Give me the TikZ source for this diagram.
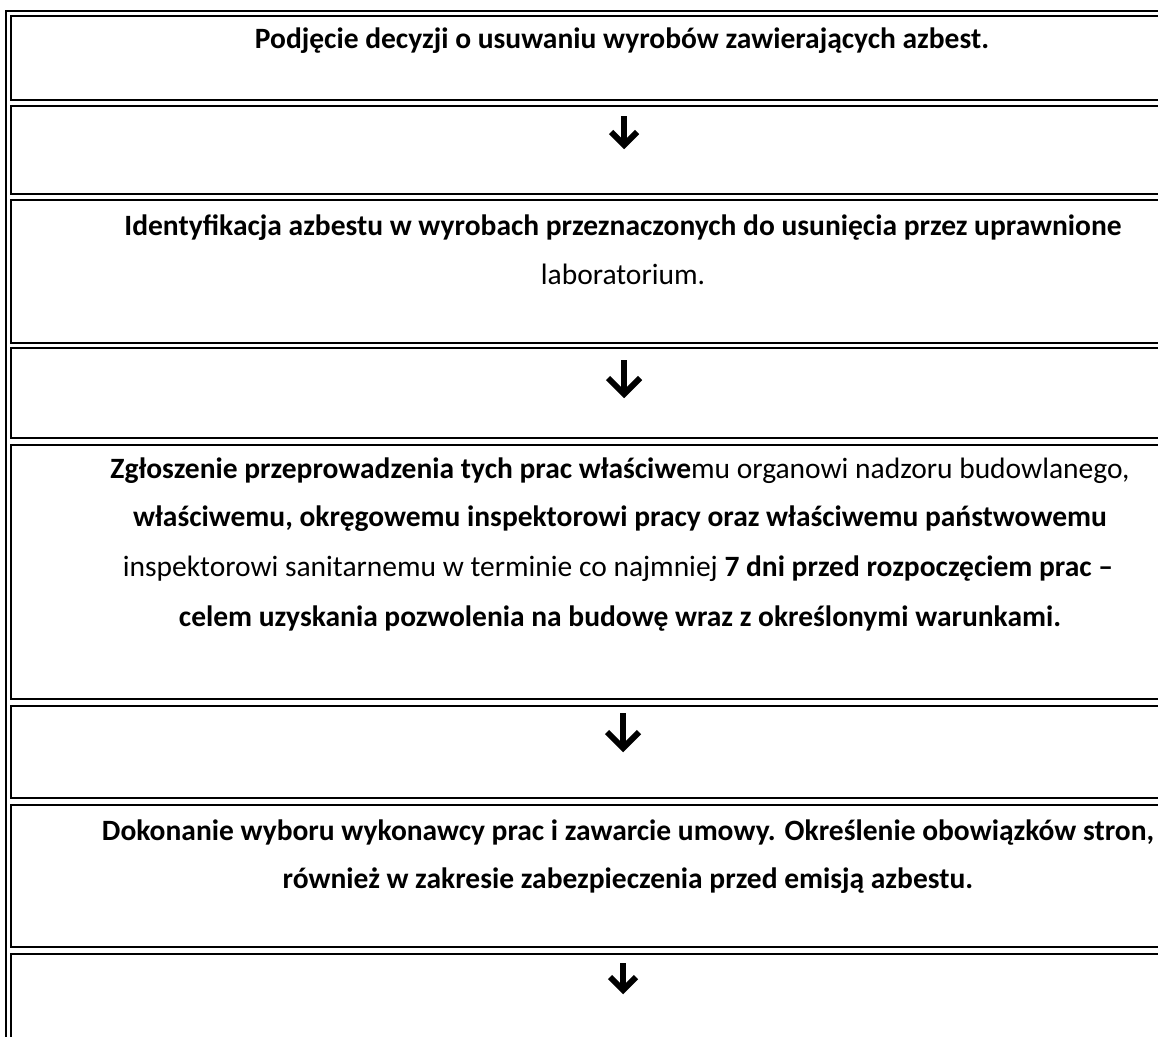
\documentclass[tikz,border=0pt]{standalone}
\usepackage{fontspec}
\setmainfont{Carlito}
\begin{document}
\begin{tikzpicture}[x=1pt,y=-1pt,
  cellbox/.style={draw=black, line width=1.6pt},
  txt/.style={anchor=base, inner sep=0pt, font=\fontsize{29.5}{36}\selectfont},
  arr/.style={draw=black, line width=6pt, line join=miter}]
\useasboundingbox (0,0) rectangle (1158,1036);
\clip (0,0) rectangle (1158,1036);
\fill[white] (0,0) rectangle (1158,1036);
% outer table border
\draw[cellbox] (6,1060) -- (6,11) -- (1200,11);
% cells
\draw[cellbox] (11,16) rectangle (1200,100);
\draw[cellbox] (11,106) rectangle (1200,194);
\draw[cellbox] (11,200) rectangle (1200,343);
\draw[cellbox] (11,348) rectangle (1200,438);
\draw[cellbox] (11,445) rectangle (1200,699);
\draw[cellbox] (11,706) rectangle (1200,798);
\draw[cellbox] (11,805) rectangle (1200,947);
\draw[cellbox] (11,954) rectangle (1200,1080);
% texts
\node[txt] (t1) at (622,48) {\bfseries Podjęcie decyzji o usuwaniu wyrobów zawierających azbest.};
\node[txt] (t3a) at (623,235) {\bfseries Identyfikacja azbestu w wyrobach przeznaczonych do usunięcia przez uprawnione};
\node[txt] (t3b) at (623,284) {laboratorium.};
\node[txt] (t5a) at (620,478) {\textbf{Zgłoszenie przeprowadzenia tych prac właściwe}mu organowi nadzoru budowlanego,};
\node[txt] (t5b) at (620,526) {\bfseries właściwemu, okręgowemu inspektorowi pracy oraz właściwemu państwowemu};
\node[txt] (t5c) at (618,576) {inspektorowi sanitarnemu w terminie co najmniej \textbf{7 dni przed rozpoczęciem prac –}};
\node[txt] (t5d) at (620,626) {\bfseries celem uzyskania pozwolenia na budowę wraz z określonymi warunkami.};
\node[txt] (t7a) at (628,840) {\bfseries Dokonanie wyboru wykonawcy prac i zawarcie umowy. Określenie obowiązków stron,};
\node[txt] (t7b) at (628,888) {\bfseries również w zakresie zabezpieczenia przed emisją azbestu.};
% arrows
\coordinate (a1t) at (624,116); \coordinate (a1b) at (624,145);
\draw[arr] (a1t) -- (a1b);
\draw[arr] (611,132) -- (a1b) -- (637,132);
\coordinate (a2t) at (624,360); \coordinate (a2b) at (624,394);
\draw[arr] (a2t) -- (a2b);
\draw[arr] (608,378) -- (a2b) -- (640,378);
\coordinate (a3t) at (623,713); \coordinate (a3b) at (623,748);
\draw[arr] (a3t) -- (a3b);
\draw[arr] (607,732) -- (a3b) -- (639,732);
\coordinate (a4t) at (623,963); \coordinate (a4b) at (623,990);
\draw[arr] (a4t) -- (a4b);
\draw[arr] (610,977) -- (a4b) -- (636,977);
\end{tikzpicture}
\end{document}
